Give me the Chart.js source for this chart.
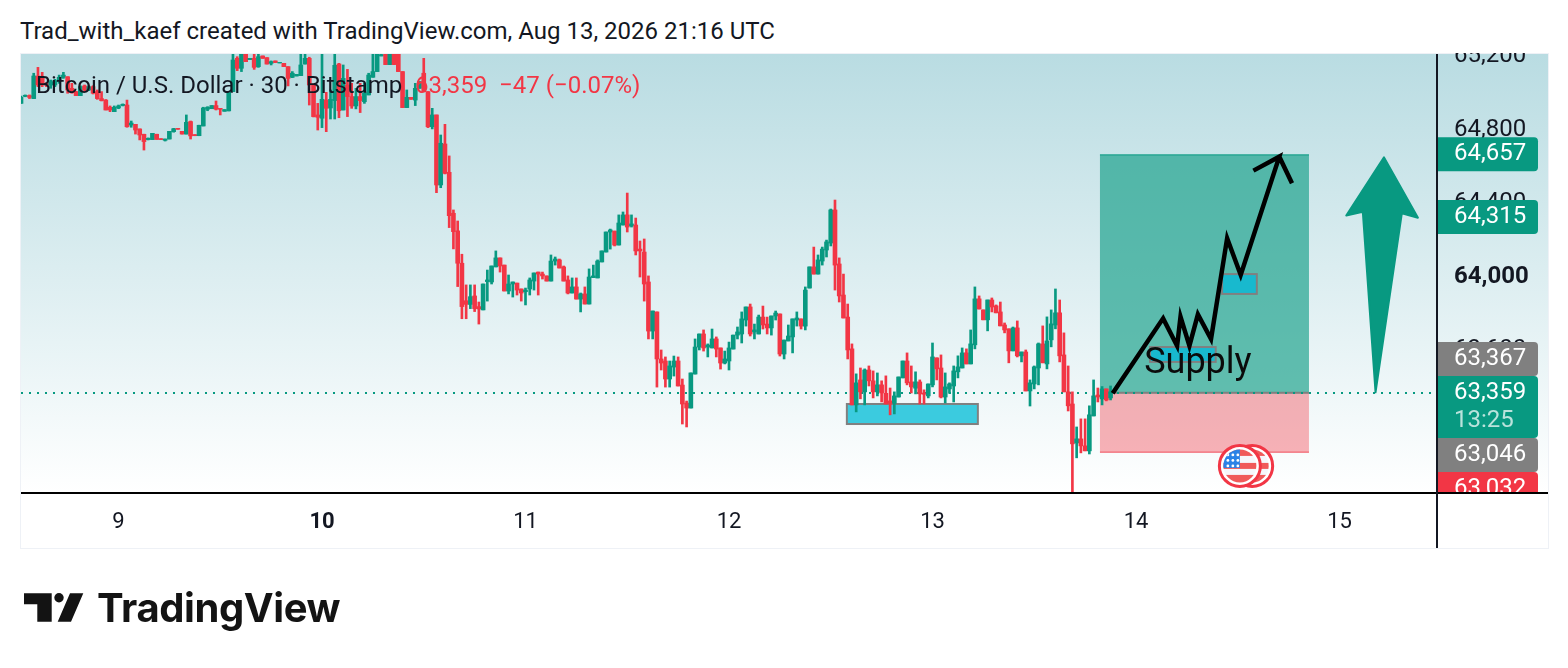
<!DOCTYPE html>
<html>
<head>
<meta charset="utf-8">
<title>BTCUSD</title>
<script src="https://cdn.jsdelivr.net/npm/chart.js@4"></script>
<style>
html, body { margin: 0; background: #fff; }
body { width: 1568px; height: 668px; overflow: hidden; position: relative; font-family: Roboto, sans-serif; color: #131722; }
#wrap { position: absolute; left: 0; top: 0; width: 1568px; height: 668px; }
#head { position: absolute; left: 0; top: 0; width: 1568px; height: 53px; background: #fff; }
#head span { position: absolute; left: 20px; top: 17px; font-size: 24px; line-height: 28px; white-space: nowrap; }
#legend { position: absolute; left: 36px; top: 71px; font-size: 24px; line-height: 28px; white-space: nowrap; }
#legend b { position: absolute; left: 379px; top: 0; font-weight: 400; color: #F23645; }
#logo { position: absolute; left: 0; top: 575px; width: 360px; height: 70px; }
#logotext { position: absolute; left: 97px; top: 583px; font-family: Inter, sans-serif; font-weight: 700; font-size: 40px; line-height: 50px; color: #131313; letter-spacing: -0.4px; white-space: nowrap; }
</style>
</head>
<body>
<div id="wrap"><canvas id="myChart"></canvas></div>
<div id="head"><span>Trad_with_kaef created with TradingView.com, Aug 13, 2026 21:16 UTC</span></div>
<div id="legend">Bitcoin / U.S. Dollar · 30 · Bitstamp<b>63,359 &nbsp;−47 (−0.07%)</b></div>
<svg id="logo" viewBox="0 575 360 70">
  <path fill="#131313" d="M24 593.3H51.7V621.7H37.3V604.3H24Z M70 593.3H83.3L71 621.7H57.7Z"/>
  <circle fill="#131313" cx="59" cy="597.7" r="4.7"/>
</svg>
<div id="logotext">TradingView</div>
<script>
const slotCount = 335;
const dayLabels = {23: '9', 71: '10', 119: '11', 167: '12', 215: '13', 263: '14', 311: '15'};
const boldDay = '10';
const priceTicks = [63200, 63600, 64000, 64400, 64800, 65200];
const boldPrice = 64000;

const opens = [
64934,64972,64976,64960,65083,65070,65043,65034,65034,65052,
65076,65079,65016,64998,64976,65029,65007,65025,64998,64960,
64952,64913,64889,64909,64922,64925,64816,64820,64795,64766,
64737,64737,64766,64742,64733,64740,64780,64798,64782,64767,
64835,64764,64758,64811,64902,64905,64922,64907,64891,64893,
64998,65179,65125,65210,65172,65179,65134,65192,65183,65152,
65165,65154,65152,65134,65076,65083,65085,65148,65179,65034,
64871,64853,64952,64909,64949,65148,64898,65034,64971,64920,
64971,64943,64980,65076,65107,65192,65210,65145,65210,65210,
65107,64911,64967,64952,65016,65098,64998,64807,64871,64490,
64713,64559,64336,64240,64064,63860,63840,63886,63828,63810,
63964,63962,64044,64093,64054,63913,63951,63956,63924,63909,
63924,63967,64016,64005,63995,63967,64076,64082,64044,63973,
63902,63935,63869,63897,63842,63986,63984,64071,64125,64234,
64239,64163,64272,64327,64267,64272,64141,64125,63962,63695,
63799,63543,63532,63434,63499,63532,63401,63303,63276,63461,
63608,63679,63608,63603,63652,63603,63521,63532,63597,63673,
63679,63755,63826,63690,63679,63771,63733,63712,63777,63788,
63570,63641,63663,63755,63761,63722,63929,64044,64005,64076,
64136,64174,64354,64060,63891,63771,63598,63293,63429,63364,
63483,63424,63364,63402,63356,63315,63302,63336,63440,63532,
63418,63384,63418,63358,63342,63402,63549,63494,63336,63380,
63396,63473,63494,63576,63516,63620,63870,63810,63756,63864,
63832,63799,63728,63707,63587,63712,63560,63581,63369,63407,
63494,63625,63516,63647,63728,63794,63565,63364,63298,63086,
63108,63070,63043,63233,63347,63326,63380,63331];

const highs = [
64974,64980,64980,65098,65130,65103,65047,65061,65065,65088,
65103,65079,65043,65000,65030,65034,65030,65030,65007,64998,
64955,64920,64920,64925,64931,64952,64838,64820,64795,64766,
64746,64771,64766,64742,64740,64782,64798,64798,64782,64871,
64838,64764,64815,64913,64916,64922,64947,64907,64900,64998,
65230,65188,65225,65225,65179,65225,65225,65192,65183,65165,
65165,65157,65152,65134,65107,65092,65230,65225,65185,65040,
64934,65230,64994,65007,65230,65152,65143,65119,65043,65016,
65043,65043,65098,65225,65230,65220,65225,65225,65225,65225,
65107,65007,64967,65043,65052,65179,64998,64907,64871,64762,
64820,64648,64354,64294,64113,63946,63946,63946,63853,63951,
64027,64049,64131,64093,64054,64000,63962,63956,63924,63929,
63984,64011,64016,64016,63995,64109,64098,64087,64049,63995,
63984,63984,63902,63935,64033,64054,64082,64131,64234,64250,
64239,64327,64343,64446,64327,64310,64185,64196,63995,63804,
63799,63592,63554,63532,63559,63554,63434,63314,63467,63652,
63679,63701,63625,63706,63663,63603,63586,63635,63673,63717,
63799,63826,63842,63733,63782,63831,63771,63777,63804,63788,
63646,63728,63761,63799,63761,63935,64044,64152,64109,64152,
64190,64359,64408,64093,64005,63842,63625,63462,63494,63489,
63505,63478,63467,63424,63451,63385,63364,63445,63532,63576,
63505,63473,63429,63375,63407,63630,63549,63565,63467,63413,
63505,63560,63603,63598,63701,63935,63886,63810,63864,63875,
63837,63853,63739,63707,63717,63750,63581,63592,63429,63505,
63630,63723,63772,63810,63924,63864,63685,63505,63364,63173,
63217,63217,63288,63429,63385,63393,63380,63396];

const lows = [
64934,64970,64960,64960,65025,65025,65025,65016,65025,65043,
65070,64989,64989,64976,64976,65000,65003,64985,64956,64947,
64898,64889,64889,64905,64920,64804,64804,64767,64735,64680,
64735,64737,64738,64737,64729,64740,64777,64793,64767,64767,
64740,64758,64758,64811,64894,64905,64898,64871,64891,64893,
64998,65112,65107,65161,65172,65119,65130,65179,65148,65143,
65156,65154,65134,65029,65074,65083,65085,65148,64925,64860,
64789,64802,64780,64849,64849,64856,64898,64862,64907,64904,
64884,64934,64980,65076,65107,65192,65145,65145,65145,65107,
64911,64911,64956,64922,65016,64998,64802,64795,64448,64475,
64550,64258,64142,63937,63762,63762,63817,63801,63733,63810,
63858,63951,64044,64016,63913,63897,63880,63891,63858,63837,
63891,63918,63891,63978,63967,63967,64054,64038,63967,63897,
63902,63869,63799,63842,63842,63986,63984,64071,64125,64141,
64158,64163,64272,64234,64261,64109,63989,63858,63652,63652,
63390,63483,63390,63390,63450,63396,63189,63173,63276,63461,
63592,63586,63554,63603,63554,63488,63516,63483,63597,63652,
63630,63722,63668,63652,63679,63706,63679,63673,63755,63559,
63543,63641,63576,63722,63706,63701,63929,64005,64005,64054,
64098,64158,63918,63853,63766,63543,63293,63255,63326,63293,
63396,63331,63342,63309,63298,63239,63244,63336,63440,63402,
63358,63353,63298,63298,63331,63391,63429,63331,63304,63356,
63309,63440,63494,63516,63516,63598,63815,63756,63696,63799,
63794,63723,63685,63522,63587,63554,63527,63369,63287,63380,
63402,63522,63489,63609,63707,63527,63364,63260,62800,63005,
63032,63043,63026,63233,63309,63293,63315,63320];

const closes = [
64967,64978,64967,65083,65034,65034,65034,65052,65058,65076,
65088,65007,64992,64976,65025,65007,65025,64989,64960,64949,
64898,64898,64913,64920,64929,64807,64827,64789,64762,64726,
64744,64771,64738,64737,64740,64782,64796,64793,64767,64831,
64757,64758,64815,64909,64913,64922,64902,64902,64900,64998,
65170,65125,65210,65161,65179,65130,65188,65179,65148,65161,
65156,65157,65134,65070,65098,65092,65143,65179,65034,64862,
64858,64956,64907,64956,65141,64894,65070,64971,64920,64971,
64949,64989,65088,65107,65210,65199,65145,65210,65145,65107,
64911,64967,64956,65016,65052,64998,64807,64871,64490,64717,
64553,64323,64236,64064,63828,63840,63882,63817,63815,63951,
63973,64049,64093,64049,63913,63951,63962,63918,63902,63918,
63973,64011,64005,63995,63967,64076,64087,64038,63967,63902,
63935,63869,63897,63842,63989,63995,64076,64131,64234,64245,
64163,64283,64327,64261,64278,64131,64131,63951,63695,63804,
63543,63521,63434,63505,63532,63396,63298,63276,63467,63608,
63679,63603,63619,63652,63597,63521,63543,63603,63673,63690,
63761,63826,63679,63701,63771,63728,63712,63777,63793,63570,
63646,63668,63761,63766,63722,63918,64044,64005,64082,64141,
64180,64354,64054,63886,63766,63592,63293,63413,63364,63483,
63424,63364,63402,63358,63298,63302,63342,63445,63532,63413,
63391,63418,63353,63351,63407,63554,63489,63336,63391,63407,
63478,63500,63576,63516,63625,63870,63815,63756,63864,63826,
63794,63723,63701,63587,63712,63560,63581,63369,63413,63500,
63625,63522,63641,63734,63794,63560,63364,63288,63081,63108,
63070,63043,63239,63342,63336,63380,63320,63364];

// drawings, x in candle slots, y in price
const lastPrice = 63359;
const targetBox = [254.5, 303.8, 64657, lastPrice];
const stopBox = [254.5, 303.8, lastPrice, 63032];
const zoneBoxes = [
    [194.8, 225.7, 63298, 63189],
    [266.3, 281.8, 63608, 63527],
    [283.3, 291.5, 64005, 63897]
];
const pathX = [257.5, 269.4, 272.7, 273.5, 275.6, 277.6, 280.7, 284.5, 287.7, 296.8, 290.7, 296.8, 299.8];
const pathY = [63356, 63764, 63614, 63773, 63614, 63786, 63652, 64200, 64000, 64644, 64568, 64644, 64499];
const arrowX = [321.5, 329.5, 325.7, 319.5, 316.5, 312.6];
const arrowY = [64640, 64312, 64336, 63362, 64344, 64324];
const supplyAt = [277.6, 63516];
const eventSlots = [290.4, 287.5];
const eventPrice = 62961;

// price scale tags
const tagPrices = [64657, 64315, 63367, 63359, 63046, 63032];
const tagColors = ['#089981', '#089981', '#808080', '#089981', '#808080', '#F23645'];
const countdown = '13:25';

const green = '#089981';
const red = '#F23645';

const candleColors = closes.map((c, i) => c >= opens[i] ? green : red);
const labels = [];
for (let i = 0; i < slotCount; i++) labels.push(dayLabels[i] || '');

function drawFlag(ctx, cx, cy) {
    ctx.save();
    ctx.beginPath();
    ctx.arc(cx, cy, 20.5, 0, Math.PI * 2);
    ctx.fillStyle = '#fff';
    ctx.fill();
    ctx.lineWidth = 3;
    ctx.strokeStyle = red;
    ctx.stroke();
    ctx.beginPath();
    ctx.arc(cx, cy, 16.5, 0, Math.PI * 2);
    ctx.clip();
    ctx.fillStyle = '#f5f7fb';
    ctx.fillRect(cx - 17, cy - 17, 34, 34);
    ctx.fillStyle = '#F05A5A';
    ctx.fillRect(cx - 17, cy - 17, 34, 7);
    ctx.fillRect(cx - 17, cy - 3, 34, 6);
    ctx.fillRect(cx - 17, cy + 9, 34, 8);
    ctx.fillStyle = '#2B82E6';
    ctx.fillRect(cx - 17, cy - 17, 17, 19);
    ctx.fillStyle = '#fff';
    for (let r = 0; r < 3; r++) {
        for (let c = 0; c < 3; c++) {
            ctx.beginPath();
            ctx.arc(cx - 12 + c * 5, cy - 11 + r * 5.5, 1.4, 0, Math.PI * 2);
            ctx.fill();
        }
    }
    ctx.restore();
}

function fillBox(ctx, x, y, box, fill) {
    const left = x.getPixelForValue(box[0]);
    const right = x.getPixelForValue(box[1]);
    const top = y.getPixelForValue(box[2]);
    const bottom = y.getPixelForValue(box[3]);
    ctx.fillStyle = fill;
    ctx.fillRect(left, top, right - left, bottom - top);
    return [left, top, right - left, bottom - top];
}

function drawTag(ctx, top, height, fill, right) {
    ctx.fillStyle = fill;
    ctx.beginPath();
    ctx.roundRect(1438, top, right - 1438, height, [0, 4, 4, 0]);
    ctx.fill();
}

const tvPlugin = {
    id: 'tvDrawings',
    beforeDraw(chart) {
        const ctx = chart.ctx;
        const area = chart.chartArea;
        const grad = ctx.createLinearGradient(0, area.top, 0, area.bottom);
        grad.addColorStop(0, '#B9DCE2');
        grad.addColorStop(1, '#ffffff');
        ctx.fillStyle = grad;
        ctx.fillRect(area.left, area.top, 1548 - area.left, area.bottom - area.top);
        ctx.strokeStyle = '#EEF1F6';
        ctx.lineWidth = 1;
        ctx.strokeRect(20.5, 53.5, 1528, 495);
    },
    beforeDatasetsDraw(chart) {
        const ctx = chart.ctx;
        const x = chart.scales.xp;
        const y = chart.scales.y;
        const area = chart.chartArea;
        ctx.save();
        // long position
        const g = fillBox(ctx, x, y, targetBox, 'rgba(8,153,129,0.62)');
        const r = fillBox(ctx, x, y, stopBox, 'rgba(242,54,69,0.38)');
        ctx.fillStyle = 'rgba(8,153,129,0.5)';
        ctx.fillRect(g[0], g[1], g[2], 1.5);
        ctx.fillStyle = 'rgba(242,54,69,0.45)';
        ctx.fillRect(r[0], r[1] + r[3] - 1.5, r[2], 1.5);
        ctx.fillStyle = '#808080';
        ctx.fillRect(g[0], g[1] + g[3] - 1, g[2], 2);
        // zones
        zoneBoxes.forEach((b, i) => {
            const p = fillBox(ctx, x, y, b, i === 0 ? '#3BCBDF' : '#18B9CE');
            ctx.strokeStyle = '#808080';
            ctx.lineWidth = 2;
            ctx.strokeRect(p[0], p[1], p[2], p[3]);
        });
        // last price line
        const py = Math.round(y.getPixelForValue(lastPrice));
        ctx.strokeStyle = green;
        ctx.lineWidth = 2;
        ctx.setLineDash([2, 6]);
        ctx.beginPath();
        ctx.moveTo(area.left, py);
        ctx.lineTo(area.right, py);
        ctx.stroke();
        ctx.restore();
    },
    afterDatasetsDraw(chart) {
        const ctx = chart.ctx;
        const x = chart.scales.xp;
        const y = chart.scales.y;
        const area = chart.chartArea;
        ctx.save();
        // big arrow
        ctx.fillStyle = green;
        ctx.strokeStyle = green;
        ctx.lineWidth = 2;
        ctx.lineJoin = 'round';
        ctx.beginPath();
        arrowX.forEach((v, i) => {
            ctx.lineTo(x.getPixelForValue(v), y.getPixelForValue(arrowY[i]));
        });
        ctx.closePath();
        ctx.fill();
        ctx.stroke();
        // text
        ctx.fillStyle = '#0b0b0b';
        ctx.font = '36px Roboto';
        ctx.textAlign = 'center';
        ctx.textBaseline = 'middle';
        ctx.fillText('Supply', x.getPixelForValue(supplyAt[0]), y.getPixelForValue(supplyAt[1]));
        // events
        eventSlots.forEach(s => drawFlag(ctx, x.getPixelForValue(s), y.getPixelForValue(eventPrice)));
        // tags, the ones near the last price stack around it
        const tagH = 34;
        const bigH = 62;
        const tagRight = 1538;
        ctx.save();
        ctx.beginPath();
        ctx.rect(area.right, area.top, 1548 - area.right, area.bottom - area.top);
        ctx.clip();
        const curTop = Math.round(y.getPixelForValue(lastPrice)) - 17;
        const tops = [
            y.getPixelForValue(tagPrices[0]) - tagH / 2,
            y.getPixelForValue(tagPrices[1]) - tagH / 2,
            curTop - tagH,
            curTop,
            curTop + bigH,
            curTop + bigH + tagH
        ];
        ctx.font = '24px Roboto';
        ctx.textAlign = 'left';
        tagPrices.forEach((p, i) => {
            const h = i === 3 ? bigH : tagH;
            drawTag(ctx, tops[i], h, tagColors[i], tagRight);
            ctx.fillStyle = '#fff';
            ctx.fillText(p.toLocaleString('en-US'), 1454, tops[i] + 17);
        });
        ctx.fillStyle = 'rgba(255,255,255,0.72)';
        ctx.fillText(countdown, 1454, curTop + 45);
        ctx.restore();
        // frame lines
        ctx.fillStyle = '#000';
        ctx.fillRect(area.left, area.bottom - 1, 1548 - area.left, 2);
        ctx.fillStyle = '#131722';
        ctx.fillRect(area.right - 1, area.top, 2, 548 - area.top);
        ctx.restore();
    }
};

const ctx = document.getElementById('myChart');
const myChart = new Chart(ctx, {
    type: 'bar',
    plugins: [tvPlugin],
    data: {
        labels: labels,
        datasets: [{
            type: 'line',
            label: 'path',
            xAxisID: 'xp',
            data: pathX.map((v, i) => ({x: v, y: pathY[i]})),
            borderColor: '#000',
            borderWidth: 4.5,
            pointRadius: 0,
            tension: 0,
            borderJoinStyle: 'miter',
            order: 0
        }, {
            label: 'body',
            xAxisID: 'x',
            data: opens.map((o, i) => [o, closes[i]]),
            backgroundColor: candleColors,
            barThickness: 4,
            grouped: false,
            order: 1
        }, {
            label: 'wick',
            xAxisID: 'x',
            data: lows.map((l, i) => [l, highs[i]]),
            backgroundColor: candleColors,
            barThickness: 2,
            grouped: false,
            order: 2
        }]
    },
    options: {
        responsive: true,
        maintainAspectRatio: false,
        animation: false,
        layout: {padding: {left: 21, top: 54, right: 20, bottom: 120}},
        plugins: {legend: {display: false}, tooltip: {enabled: false}},
        scales: {
            x: {
                type: 'category',
                offset: false,
                grid: {display: false, drawTicks: false},
                border: {display: false},
                afterFit(scale) { scale.height = 55; },
                ticks: {
                    autoSkip: false,
                    maxRotation: 0,
                    padding: 16,
                    color: '#131722',
                    font: c => ({family: 'Roboto', size: 22, weight: labels[c.index] === boldDay ? 'bold' : 'normal'})
                }
            },
            xp: {type: 'linear', display: false, offset: false, min: 0, max: slotCount - 1},
            y: {
                position: 'right',
                min: 62813.6,
                max: 65202.7,
                grid: {display: false, drawTicks: false},
                border: {display: false},
                afterFit(scale) { scale.width = 111; },
                afterBuildTicks(scale) { scale.ticks = priceTicks.map(v => ({value: v})); },
                ticks: {
                    autoSkip: false,
                    padding: 17,
                    crossAlign: 'near',
                    labelOffset: 2,
                    color: '#131722',
                    callback: v => v.toLocaleString('en-US'),
                    font: c => ({family: 'Roboto', size: 24, weight: c.tick && c.tick.value === boldPrice ? 'bold' : 'normal'})
                }
            }
        }
    }
});
</script>
</body>
</html>
